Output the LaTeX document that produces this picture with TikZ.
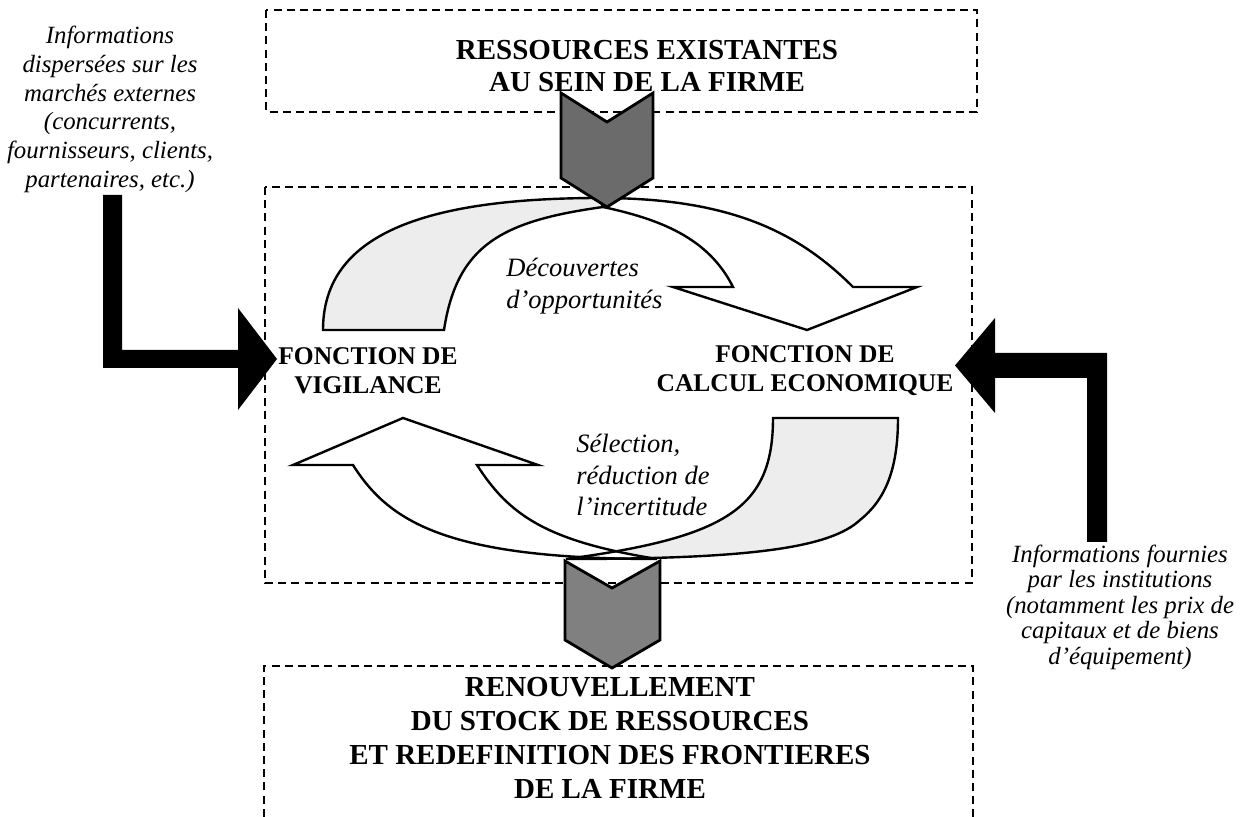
\documentclass[tikz,border=0pt]{standalone}
\usepackage{fontspec}
\setmainfont{Liberation Serif}
\begin{document}
\begin{tikzpicture}[x=0.5pt,y=-0.5pt,
  dashbox/.style={draw=black, line width=1pt, dash pattern=on 4pt off 2.6pt},
  band/.style={draw=black, line width=1.2pt, line join=miter},
  chev/.style={draw=black, line width=1.4pt, line join=miter},
  bigarrow/.style={fill=black},
  boxtxt/.style={font=\bfseries\fontsize{14.5}{16}\selectfont, align=center, inner sep=0pt},
  boxtxtb/.style={font=\bfseries\fontsize{14.5}{17}\selectfont, align=center, inner sep=0pt},
  fonc/.style={font=\bfseries\fontsize{12.75}{14.5}\selectfont, align=center, inner sep=0pt},
  midtxt/.style={font=\itshape\fontsize{13.25}{15.75}\selectfont, align=left, inner sep=0pt, anchor=west},
  sidetxtL/.style={font=\itshape\fontsize{12.4}{14.35}\selectfont, align=center, inner sep=0pt},
  sidetxtR/.style={font=\itshape\fontsize{12.4}{12.75}\selectfont, align=center, inner sep=0pt}]
\useasboundingbox (0,0) rectangle (1247,817);
\clip (0,0) rectangle (1247,817);

% dashed boxes
\draw[dashbox] (266,10) rectangle (977,112);
\draw[dashbox] (265,187) rectangle (972,583);
\draw[dashbox] (264,830) -- (264,666) -- (973,666) -- (973,830);

% box texts
\node[boxtxt] (res) at (647,66.4) {RESSOURCES EXISTANTES\\AU SEIN DE LA FIRME};
\node[boxtxtb] (renouv) at (610,738.4) {RENOUVELLEMENT\\DU STOCK DE RESSOURCES\\ET REDEFINITION DES FRONTIERES\\DE LA FIRME};

% upper curved arrow: shaded back part
\path[band, fill=black!7] (323,330) .. controls (323,240.2) and (411.6,198) .. (600,198)
  -- (603,207) .. controls (502,221) and (457,245) .. (444,330) -- cycle;
% upper curved arrow: white front part with head
\path[band, fill=white] (600,198) .. controls (730,198) and (798,232) .. (853,287)
  -- (917,287) -- (807,330) -- (673,287) -- (733,287)
  .. controls (708,237) and (658.5,219) .. (603,207) -- cycle;

% lower curved arrow
\def\lowshaded{(773,418) -- (898,418) .. controls (898,470) and (885,500) .. (860,520)
  .. controls (830,548) and (750,559) .. (566,559)
  .. controls (727,537.3) and (773,508) .. (773,418) -- cycle}
\def\lowwhite{(477,465) -- (538,465) -- (403,418) -- (293,465) -- (353,465)
  .. controls (389,522) and (447,559) .. (657,559)
  .. controls (546,541) and (509,515) .. (477,465) -- cycle}
\fill[black!7] \lowshaded;
\fill[white] \lowwhite;
\draw[band] \lowshaded;
\draw[band] \lowwhite;

% middle texts
\node[fonc] (vig) at (368,371) {FONCTION DE\\VIGILANCE};
\node[fonc] (calc) at (805,371) {FONCTION DE\\CALCUL ECONOMIQUE};
\node[midtxt] (decouv) at (506,286.2) {Découvertes\\d’opportunités};
\node[midtxt] (select) at (576,475.3) {Sélection,\\réduction de\\l’incertitude};

% side texts
\node[sidetxtL] (infoL) at (110,109.3) {Informations\\dispersées sur les\\marchés externes\\(concurrents,\\fournisseurs, clients,\\partenaires, etc.)};
\node[sidetxtR] (infoR) at (1120,607) {Informations fournies\\par les institutions\\(notamment les prix de\\capitaux et de biens\\d’équipement)};

% chevrons
\filldraw[chev, fill=black!58] (561,93) -- (607,122) -- (653,93) -- (653,178) -- (607,207) -- (561,178) -- cycle;
\filldraw[chev, fill=black!50] (565,561) -- (612,588) -- (660,561) -- (660,640) -- (612,668) -- (565,640) -- cycle;

% big black L arrows
\fill[bigarrow] (103,195) -- (122,195) -- (122,350) -- (238,350) -- (238,308) -- (277,359) -- (238,410) -- (238,368) -- (103,368) -- cycle;
\fill[bigarrow] (1087,542) -- (1087,378) -- (995,378) -- (995,413) -- (955,365.5) -- (995,318) -- (995,353) -- (1107,353) -- (1107,542) -- cycle;
\end{tikzpicture}
\end{document}
